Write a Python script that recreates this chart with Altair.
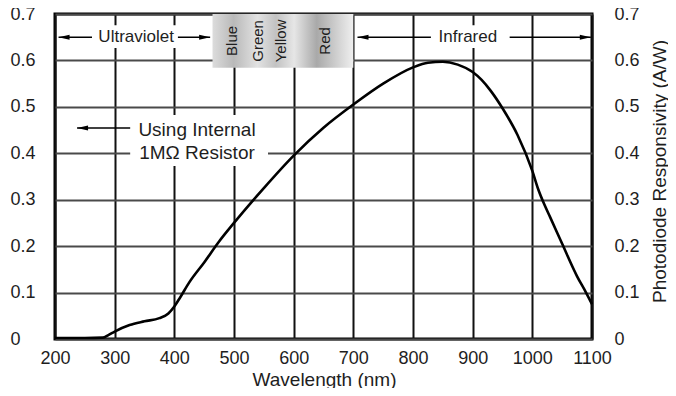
import altair as alt
import pandas as pd

# ---- data ----
wavelength = [200, 250, 280, 290, 300, 325, 350, 375, 390, 400, 410, 425, 450, 475,
              500, 550, 600, 650, 700, 750, 800, 825, 850, 875, 900, 915, 930, 950,
              975, 1000, 1010, 1020, 1030, 1050, 1075, 1090, 1100]
responsivity = [0.002, 0.002, 0.003, 0.009, 0.016, 0.030, 0.038, 0.045, 0.055, 0.070,
                0.090, 0.122, 0.165, 0.210, 0.250, 0.325, 0.395, 0.455, 0.505, 0.550,
                0.585, 0.595, 0.597, 0.591, 0.575, 0.558, 0.535, 0.497,
                0.440, 0.362, 0.322, 0.290, 0.262, 0.205, 0.135, 0.100, 0.075]

x_ticks = [200, 300, 400, 500, 600, 700, 800, 900, 1000, 1100]
y_ticks = [0, 0.1, 0.2, 0.3, 0.4, 0.5, 0.6, 0.7]

# visible-spectrum box
box_from, box_to, box_bottom, box_top = [464], [700], [0.584], [0.7]
color_names = ["Blue", "Green", "Yellow", "Red"]
color_wl = [497, 540, 579, 652]
color_v = [0.642, 0.642, 0.642, 0.642]

# band labels
band_names = ["Ultraviolet", "Infrared"]
band_wl = [336, 892]
band_v = [0.650, 0.650]
band_bg_from = [267, 833]
band_bg_to = [404, 950]
band_bg_low = [0.627, 0.627]
band_bg_high = [0.676, 0.676]

# arrows: line segments and heads
arrow_line_from = [206, 406, 707, 962, 237]
arrow_line_to = [262, 460, 830, 1098, 326]
arrow_line_v = [0.650, 0.650, 0.650, 0.650, 0.4545]
left_head_wl = [206, 707, 237]
left_head_v = [0.650, 0.650, 0.4545]
right_head_wl = [460, 1098]
right_head_v = [0.650, 0.650]

# note
note_lines = ["Using Internal", "1M\u03a9 Resistor"]
note_wl = [438, 438]
note_v = [0.450, 0.400]
note_bg = dict(x1=[326], x2=[557], y1=[0.3726], y2=[0.4825])

FONT = "Liberation Sans"
TXT = "#1e1e1e"

xscale = alt.Scale(domain=[200, 1100], nice=False, zero=False)
yscale = alt.Scale(domain=[0, 0.7], nice=False, zero=False)
xaxis = alt.Axis(values=x_ticks, format="d", grid=True, gridColor="#111111", gridWidth=2,
                 gridOpacity=1, ticks=False, domain=False, labelPadding=10, labelFontSize=18,
                 labelFont=FONT, labelColor=TXT, labelFlush=False, labelOverlap=False,
                 title="Wavelength (nm)", titleFontSize=19, titleFont=FONT, titleColor=TXT,
                 titleFontWeight="normal", titleX=269, titleY=40, titleBaseline="middle",
                 titleAlign="center")
yaxis_left = alt.Axis(orient="left", values=y_ticks, format=".1~f", grid=True,
                      gridColor="#4a4a4a", gridWidth=2, gridOpacity=1, ticks=False,
                      domain=False, labelAlign="left", labelPadding=45, labelFontSize=18,
                      labelFont=FONT, labelColor=TXT, labelFlush=False, labelOverlap=False,
                      labelBaseline="middle", title=None)
yaxis_right = alt.Axis(orient="right", values=y_ticks, format=".1~f", grid=False,
                       ticks=False, domain=False, labelAlign="left", labelPadding=22,
                       labelFontSize=18, labelFont=FONT, labelColor=TXT, labelFlush=False,
                       labelOverlap=False, labelBaseline="middle",
                       title="Photodiode Responsivity (A/W)", titleFontSize=19,
                       titleFont=FONT, titleColor=TXT, titleFontWeight="normal",
                       titleAngle=270, titleX=67, titleY=157, titleAlign="center",
                       titleBaseline="middle")

curve_df = pd.DataFrame({"wl": wavelength, "v": responsivity})
curve = alt.Chart(curve_df).mark_line(color="black", strokeWidth=2.6,
                                      interpolate="monotone").encode(
    x=alt.X("wl:Q", scale=xscale, axis=xaxis),
    y=alt.Y("v:Q", scale=yscale, axis=yaxis_left),
)

box_df = pd.DataFrame({"a": box_from, "b": box_to, "lo": box_bottom, "hi": box_top})
grad = alt.Gradient(gradient="linear", x1=0, x2=1, y1=0, y2=0, stops=[
    alt.GradientStop(color="#dcdcdc", offset=0),
    alt.GradientStop(color="#b9b9b9", offset=0.15),
    alt.GradientStop(color="#e2e2e2", offset=0.32),
    alt.GradientStop(color="#c2c2c2", offset=0.45),
    alt.GradientStop(color="#e6e6e6", offset=0.58),
    alt.GradientStop(color="#a9a9a9", offset=0.74),
    alt.GradientStop(color="#cfcfcf", offset=0.88),
    alt.GradientStop(color="#efefef", offset=1),
])
box = alt.Chart(box_df).mark_rect(fill=grad, strokeWidth=0).encode(
    x=alt.X("a:Q", scale=xscale, axis=xaxis), x2="b:Q",
    y=alt.Y("lo:Q", scale=yscale, axis=yaxis_right), y2="hi:Q",
)

colors_df = pd.DataFrame({"name": color_names, "wl": color_wl, "v": color_v})
color_text = alt.Chart(colors_df).mark_text(angle=270, align="center", baseline="middle",
                                            font=FONT, fontSize=15, color=TXT).encode(
    x=alt.X("wl:Q", scale=xscale, axis=xaxis),
    y=alt.Y("v:Q", scale=yscale, axis=None),
    text="name:N",
)

band_bg_df = pd.DataFrame({"a": band_bg_from, "b": band_bg_to, "lo": band_bg_low,
                           "hi": band_bg_high})
band_bg = alt.Chart(band_bg_df).mark_rect(fill="white", strokeWidth=0).encode(
    x=alt.X("a:Q", scale=xscale, axis=xaxis), x2="b:Q",
    y=alt.Y("lo:Q", scale=yscale, axis=None), y2="hi:Q",
)
note_bg_df = pd.DataFrame({"a": note_bg["x1"], "b": note_bg["x2"], "lo": note_bg["y1"],
                           "hi": note_bg["y2"]})
note_bgr = alt.Chart(note_bg_df).mark_rect(fill="white", strokeWidth=0).encode(
    x=alt.X("a:Q", scale=xscale, axis=xaxis), x2="b:Q",
    y=alt.Y("lo:Q", scale=yscale, axis=None), y2="hi:Q",
)

arrow_df = pd.DataFrame({"a": arrow_line_from, "b": arrow_line_to, "v": arrow_line_v})
arrow_lines = alt.Chart(arrow_df).mark_rule(color="black", strokeWidth=1.6).encode(
    x=alt.X("a:Q", scale=xscale, axis=xaxis), x2="b:Q",
    y=alt.Y("v:Q", scale=yscale, axis=None),
)
lh_df = pd.DataFrame({"wl": left_head_wl, "v": left_head_v})
left_heads = alt.Chart(lh_df).mark_point(shape="M 0 0 L 2 -0.45 L 2 0.45 Z", filled=True,
                                         size=121, color="black", opacity=1,
                                         strokeWidth=0).encode(
    x=alt.X("wl:Q", scale=xscale, axis=xaxis),
    y=alt.Y("v:Q", scale=yscale, axis=None),
)
rh_df = pd.DataFrame({"wl": right_head_wl, "v": right_head_v})
right_heads = alt.Chart(rh_df).mark_point(shape="M 0 0 L -2 -0.45 L -2 0.45 Z", filled=True,
                                          size=121, color="black", opacity=1,
                                          strokeWidth=0).encode(
    x=alt.X("wl:Q", scale=xscale, axis=xaxis),
    y=alt.Y("v:Q", scale=yscale, axis=None),
)

band_df = pd.DataFrame({"name": band_names, "wl": band_wl, "v": band_v})
band_text = alt.Chart(band_df).mark_text(align="center", baseline="middle", font=FONT,
                                         fontSize=17, color=TXT).encode(
    x=alt.X("wl:Q", scale=xscale, axis=xaxis),
    y=alt.Y("v:Q", scale=yscale, axis=None),
    text="name:N",
)
note_df = pd.DataFrame({"t": note_lines, "wl": note_wl, "v": note_v})
note_text = alt.Chart(note_df).mark_text(align="center", baseline="middle", font=FONT,
                                         fontSize=19, color=TXT).encode(
    x=alt.X("wl:Q", scale=xscale, axis=xaxis),
    y=alt.Y("v:Q", scale=yscale, axis=None),
    text="t:N",
)

chart = alt.layer(
    curve, band_bg, note_bgr, arrow_lines, left_heads, right_heads, box, color_text,
    band_text, note_text,
).resolve_axis(y="independent").properties(
    width=537, height=325,
    padding={"left": 47, "top": 6, "right": 76, "bottom": 49},
    autosize=alt.AutoSizeParams(type="none"),
    background="white",
).configure_view(stroke="black", strokeWidth=3)

chart.save("out.html", embed_options={"renderer": "svg", "actions": False})
